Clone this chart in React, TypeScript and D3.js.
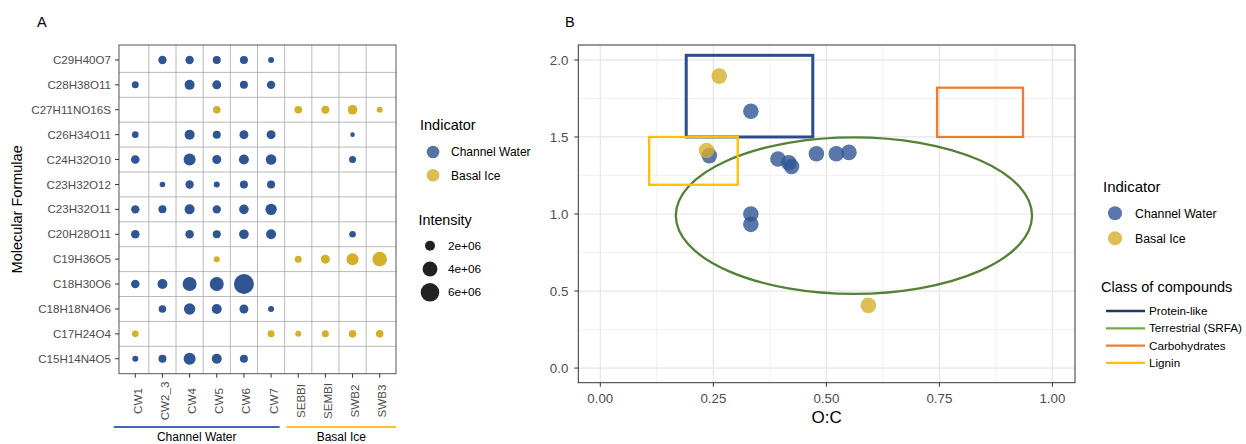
import React from "react";
import * as d3 from "d3";

// ---- data ----
const samples = ["CW1", "CW2_3", "CW4", "CW5", "CW6", "CW7", "SEBBI", "SEMBI", "SWB2", "SWB3"];
const formulas = [
  "C29H40O7", "C28H38O11", "C27H11NO16S", "C26H34O11", "C24H32O10", "C23H32O12", "C23H32O11",
  "C20H28O11", "C19H36O5", "C18H30O6", "C18H18N4O6", "C17H24O4", "C15H14N4O5",
];
const indicator = [
  "Channel Water", "Channel Water", "Basal Ice", "Channel Water", "Channel Water", "Channel Water", "Channel Water",
  "Channel Water", "Basal Ice", "Channel Water", "Channel Water", "Basal Ice", "Channel Water",
];
// intensity in millions, one row per formula, columns follow `samples`
const intensity: (number | null)[][] = [
  [null, 1.49, 1.49, 1.38, 1.38, 0.87, null, null, null, null],
  [1.11, null, 2.0, 1.67, 1.38, 1.49, null, null, null, null],
  [null, null, null, 1.27, null, null, 1.27, 1.38, 1.87, 0.87],
  [1.01, null, 2.0, 1.38, 1.67, 1.67, null, null, 0.58, null],
  [1.55, null, 2.74, 1.67, 2.0, 2.21, null, null, 1.11, null],
  [null, 0.78, 1.49, 0.87, 1.38, 1.38, null, null, null, null],
  [1.49, 1.38, 2.0, 1.49, 1.87, 2.5, null, null, null, null],
  [1.55, null, 1.55, 1.38, 1.87, 2.0, null, null, 1.01, null],
  [null, null, null, 0.87, null, null, 1.11, 1.67, 2.74, 3.87],
  [1.55, 2.0, 3.59, 3.59, 6.85, null, null, null, null, null],
  [null, 1.27, 2.5, 2.0, 1.67, 0.87, null, null, null, null],
  [1.01, null, null, null, null, 1.11, 0.87, 1.11, 1.27, 1.27],
  [0.87, 1.38, 2.74, 2.0, 1.38, null, null, null, null, null],
];
const sizeBreaks = [2e6, 4e6, 6e6];
const sizeLabels = ["2e+06", "4e+06", "6e+06"];

// van Krevelen coordinates (O:C, H:C) per formula
const oc = [0.241, 0.393, 0.593, 0.423, 0.417, 0.522, 0.478, 0.55, 0.263, 0.333, 0.333, 0.235, 0.333];
const hc = [1.379, 1.357, 0.407, 1.308, 1.333, 1.391, 1.391, 1.4, 1.895, 1.667, 1.0, 1.412, 0.933];

const xTicksB = [0, 0.25, 0.5, 0.75, 1];
const yTicksB = [0, 0.5, 1, 1.5, 2];

const classes = ["Protein-like", "Terrestrial (SRFA)", "Carbohydrates", "Lignin"];
const classLegendColors = ["#1f3864", "#70ad47", "#ed7d31", "#ffc000"];
const classShapeColors = ["#2b4d8f", "#538135", "#ed7d31", "#ffc000"];
// regions: rect [x0, x1, y0, y1] or ellipse [cx, cy, rx, ry]
const proteinBox = [0.19, 0.47, 1.5, 2.03];
const carbBox = [0.745, 0.935, 1.5, 1.82];
const ligninBox = [0.108, 0.304, 1.19, 1.5];
const srfaEllipse = [0.561, 0.99, 0.394, 0.508];

const groups = ["Channel Water", "Basal Ice"];
const groupSpan = [["CW1", "CW7"], ["SEBBI", "SWB3"]];

const colorScale = d3.scaleOrdinal<string, string>().domain(groups).range(["#2f5593", "#d4af2a"]);
const font = "'Liberation Sans', Arial, sans-serif";

function PanelA() {
  const left = 119, right = 396, top = 45, bottom = 373.7;
  const x = d3.scalePoint<string>().domain(samples).range([left, right]).padding(0.6);
  const y = d3.scalePoint<string>().domain(formulas).range([top, bottom]).padding(0.6);
  const r = d3.scaleSqrt().domain([2e6, 6e6]).range([5, 9.3]);
  const sx = x.step();
  const sy = y.step();

  return (
    <g>
      <text x={37} y={26.5} fontSize={14.5} fontFamily={font}>A</text>
      <rect x={left} y={top} width={right - left} height={bottom - top} fill="#fff" />
      {samples.slice(1).map((s) => (
        <line key={s} x1={x(s)! - sx / 2} x2={x(s)! - sx / 2} y1={top} y2={bottom} stroke="#a8a8a8" strokeWidth={0.8} />
      ))}
      {formulas.slice(1).map((f) => (
        <line key={f} x1={left} x2={right} y1={y(f)! - sy / 2} y2={y(f)! - sy / 2} stroke="#a8a8a8" strokeWidth={0.8} />
      ))}
      <rect x={left} y={top} width={right - left} height={bottom - top} fill="none" stroke="#555" strokeWidth={1} />
      {formulas.map((f, i) =>
        intensity[i].map((v, j) =>
          v == null ? null : (
            <circle key={f + j} cx={x(samples[j])} cy={y(f)} r={r(v * 1e6)} fill={colorScale(indicator[i])} />
          )
        )
      )}
      {formulas.map((f) => (
        <g key={f}>
          <line x1={left - 4} x2={left} y1={y(f)} y2={y(f)} stroke="#333" />
          <text x={left - 8} y={y(f)} dy="0.35em" textAnchor="end" fontSize={11.6} fill="#4d4d4d" fontFamily={font}>{f}</text>
        </g>
      ))}
      {samples.map((s) => (
        <g key={s}>
          <line x1={x(s)} x2={x(s)} y1={bottom} y2={bottom + 4} stroke="#333" />
          <text transform={`translate(${x(s)! + 2.5},401) rotate(-90)`} dy="0.35em" textAnchor="middle" fontSize={11.6} fill="#4d4d4d" fontFamily={font}>{s}</text>
        </g>
      ))}
      <text transform={`translate(22,${(top + bottom) / 2}) rotate(-90)`} textAnchor="middle" fontSize={14.5} fontFamily={font}>Molecular Formulae</text>
      {groups.map((g, i) => {
        const x0 = i === 0 ? 113.7 : x(groupSpan[i][0])! - sx / 2 + 2;
        const x1 = i === 0 ? x(groupSpan[i][1])! + sx / 2 - 5 : right;
        return (
          <g key={g}>
            <line x1={x0} x2={x1} y1={427} y2={427} stroke={i === 0 ? "#4467ad" : "#f2c230"} strokeWidth={1.8} />
            <text x={(x0 + x1) / 2} y={441} textAnchor="middle" fontSize={12} fontFamily={font}>{g}</text>
          </g>
        );
      })}
      {/* legend */}
      <text x={420} y={130} fontSize={14.5} fontFamily={font}>Indicator</text>
      {groups.map((g, i) => (
        <g key={g}>
          <circle cx={433} cy={152 + i * 23.3} r={6.3} fill={colorScale(g)} opacity={0.82} />
          <text x={451} y={152 + i * 23.3} dy="0.35em" fontSize={12} fontFamily={font}>{g}</text>
        </g>
      ))}
      <text x={418.5} y={225} fontSize={14.3} fontFamily={font}>Intensity</text>
      {sizeBreaks.map((b, i) => (
        <g key={b}>
          <circle cx={430} cy={245.7 + i * 23.3} r={r(b)} fill="#222" />
          <text x={448} y={245.7 + i * 23.3} dy="0.35em" fontSize={11.8} fontFamily={font}>{sizeLabels[i]}</text>
        </g>
      ))}
    </g>
  );
}

function PanelB() {
  const left = 578.3, right = 1075, top = 45, bottom = 382.7;
  const x = d3.scaleLinear().domain([-0.0487, 1.05]).range([left, right]);
  const y = d3.scaleLinear().domain([-0.095, 2.097]).range([bottom, top]);
  const xMinor = d3.range(0.125, 1.0, 0.25);
  const yMinor = d3.range(0.25, 2.0, 0.5);

  const box = (b: number[], color: string, w: number) => (
    <rect x={x(b[0])} y={y(b[3])} width={x(b[1]) - x(b[0])} height={y(b[2]) - y(b[3])} fill="none" stroke={color} strokeWidth={w} />
  );

  return (
    <g>
      <text x={565} y={26.5} fontSize={14.5} fontFamily={font}>B</text>
      <rect x={left} y={top} width={right - left} height={bottom - top} fill="#fff" />
      {xMinor.map((v) => <line key={"xm" + v} x1={x(v)} x2={x(v)} y1={top} y2={bottom} stroke="#ebebeb" strokeWidth={0.7} />)}
      {yMinor.map((v) => <line key={"ym" + v} x1={left} x2={right} y1={y(v)} y2={y(v)} stroke="#ebebeb" strokeWidth={0.7} />)}
      {xTicksB.map((v) => <line key={"x" + v} x1={x(v)} x2={x(v)} y1={top} y2={bottom} stroke="#e6e6e6" strokeWidth={1.2} />)}
      {yTicksB.map((v) => <line key={"y" + v} x1={left} x2={right} y1={y(v)} y2={y(v)} stroke="#e6e6e6" strokeWidth={1.2} />)}
      {box(proteinBox, classShapeColors[0], 3)}
      <ellipse cx={x(srfaEllipse[0])} cy={y(srfaEllipse[1])} rx={x(srfaEllipse[2]) - x(0)} ry={y(0) - y(srfaEllipse[3])} fill="none" stroke={classShapeColors[1]} strokeWidth={2.3} />
      {box(carbBox, classShapeColors[2], 2.3)}
      {box(ligninBox, classShapeColors[3], 2.3)}
      {formulas.map((f, i) => (
        <circle key={f} cx={x(oc[i])} cy={y(hc[i])} r={7.8} fill={colorScale(indicator[i])} opacity={0.8} />
      ))}
      <rect x={left} y={top} width={right - left} height={bottom - top} fill="none" stroke="#333" strokeWidth={1} />
      {xTicksB.map((v) => (
        <g key={v}>
          <line x1={x(v)} x2={x(v)} y1={bottom} y2={bottom + 4} stroke="#333" />
          <text x={x(v)} y={bottom + 19.8} textAnchor="middle" fontSize={13.3} fill="#4d4d4d" fontFamily={font}>{d3.format(".2f")(v)}</text>
        </g>
      ))}
      {yTicksB.map((v) => (
        <g key={v}>
          <line x1={left - 4} x2={left} y1={y(v)} y2={y(v)} stroke="#333" />
          <text x={left - 10} y={y(v)} dy="0.35em" textAnchor="end" fontSize={13.3} fill="#4d4d4d" fontFamily={font}>{d3.format(".1f")(v)}</text>
        </g>
      ))}
      <text x={(left + right) / 2} y={423} textAnchor="middle" fontSize={17} fontFamily={font}>O:C</text>
      {/* legends */}
      <text x={1103} y={192} fontSize={15} fontFamily={font}>Indicator</text>
      {groups.map((g, i) => (
        <g key={g}>
          <circle cx={1115} cy={213.3 + i * 25} r={7} fill={colorScale(g)} opacity={0.8} />
          <text x={1135} y={213.3 + i * 25} dy="0.35em" fontSize={12.3} fontFamily={font}>{g}</text>
        </g>
      ))}
      <text x={1101} y={291.5} fontSize={14.5} fontFamily={font}>Class of compounds</text>
      {classes.map((c, i) => (
        <g key={c}>
          <line x1={1106} x2={1145} y1={311 + i * 17.3} y2={311 + i * 17.3} stroke={classLegendColors[i]} strokeWidth={2.3} />
          <text x={1149} y={311 + i * 17.3} dy="0.35em" fontSize={11.7} fontFamily={font}>{c}</text>
        </g>
      ))}
    </g>
  );
}

export default function App() {
  return (
    <svg width={1246} height={444} style={{ position: "absolute", left: 0, top: 0, background: "#fff" }}>
      <PanelA />
      <PanelB />
    </svg>
  );
}
